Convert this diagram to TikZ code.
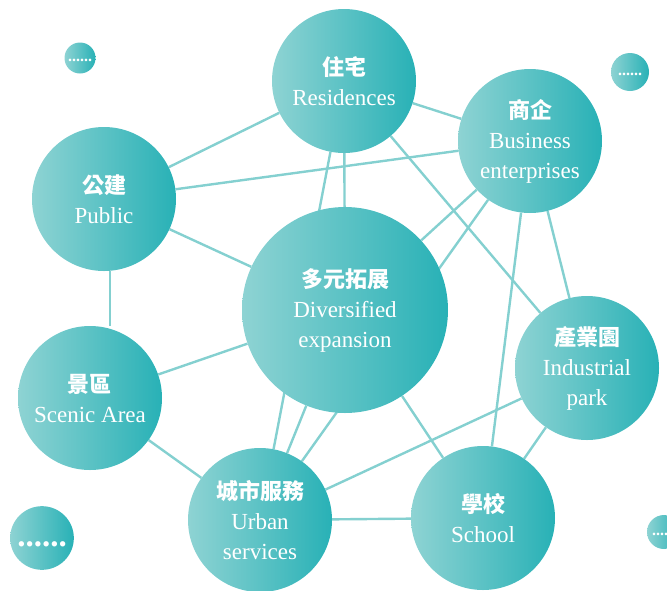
\documentclass[tikz,border=0pt]{standalone}
\usepackage{fontspec}
\setmainfont{Liberation Serif}
\newfontfamily\cjk{Noto Sans CJK TC}
\usetikzlibrary{backgrounds}
\definecolor{tealdark}{RGB}{40,177,182}
\definecolor{teallight}{RGB}{142,211,211}
\definecolor{linkteal}{RGB}{132,208,208}
\tikzset{bubble/.style={circle, minimum size=144pt, inner sep=0pt, left color=teallight, right color=tealdark, text=white, align=center, font=\fontsize{23}{30}\selectfont}}
\tikzset{bigbubble/.style={bubble, minimum size=206pt}}
\tikzset{dotbubble/.style={bubble, minimum size=#1}}
\tikzset{link/.style={draw=linkteal, line width=2.4pt}}
\newcommand{\zh}[1]{{\cjk\bfseries\fontsize{22}{30}\selectfont #1}}

\begin{document}
\begin{tikzpicture}[x=1pt, y=-1pt]
            \useasboundingbox (0, 0) rectangle (667, 590);
            \node[bubble] (residences) at (344, 81) {\zh{住宅}\\Residences};
            \node[bubble] (business) at (530, 141) {\zh{商企}\\Business\\enterprises};
            \node[bubble] (public) at (104, 199) {\zh{公建}\\Public};
            \node[bigbubble] (diversified) at (345, 310) {\zh{多元拓展}\\Diversified\\expansion};
            \node[bubble] (scenic) at (90, 398) {\zh{景區}\\Scenic Area};
            \node[bubble] (industrial) at (587, 368) {\zh{產業園}\\Industrial\\park};
            \node[bubble] (urban) at (260, 520) {\zh{城市服務}\\Urban\\services};
            \node[bubble] (school) at (483, 518) {\zh{學校}\\School};
            % small bubbles
            \node[dotbubble=31pt, font=\fontsize{16}{19}\selectfont\bfseries] (dotsnw) at (80, 58) {\strut......};
            \node[dotbubble=38pt, font=\fontsize{16}{19}\selectfont\bfseries] (dotsne) at (630, 72) {\strut......};
            \node[dotbubble=62pt, font=\fontsize{33}{40}\selectfont\bfseries] (dotssw) at (42, 538) {\strut......};
            \node[dotbubble=34pt, font=\fontsize{16}{19}\selectfont\bfseries] (dotsse) at (664, 532) {\strut......};
            \begin{pgfonlayer}{background}
                \foreach \a/\b in {residences/public, residences/business, residences/diversified,
                    residences/urban, residences/industrial, public/business, public/diversified,
                    business/diversified, business/urban, business/school,
                    business/industrial, diversified/scenic, diversified/urban, diversified/school,
                    scenic/urban, urban/school, urban/industrial, industrial/school} {
                    \draw[link] (\a) -- (\b);
                }
                \draw[link] (public.-85) -- (scenic.north -| public.-85);
            \end{pgfonlayer}
        \end{tikzpicture}
\end{document}
